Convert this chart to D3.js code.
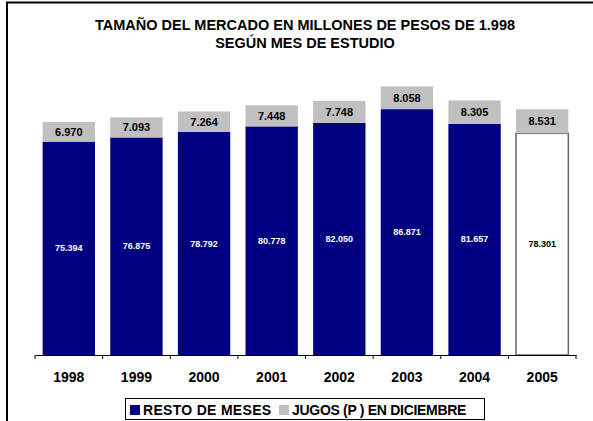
<!DOCTYPE html>
<html>
<head>
<meta charset="utf-8">
<script src="https://cdn.jsdelivr.net/npm/d3@7"></script>
<style>
  html, body { margin: 0; padding: 0; background: #fff; }
  svg { display: block; font-family: Arial, "Liberation Sans", sans-serif; }
</style>
</head>
<body>
<svg id="chart" width="593" height="421"></svg>
<script>
const years = ["1998", "1999", "2000", "2001", "2002", "2003", "2004", "2005"];
const restoMeses = [75394, 76875, 78792, 80778, 82050, 86871, 81657, 78301];
const jugosDiciembre = [6970, 7093, 7264, 7448, 7748, 8058, 8305, 8531];
const restoLabels = ["75.394", "76.875", "78.792", "80.778", "82.050", "86.871", "81.657", "78.301"];
const jugosLabels = ["6.970", "7.093", "7.264", "7.448", "7.748", "8.058", "8.305", "8.531"];
const titleLines = ["TAMAÑO DEL MERCADO EN MILLONES DE PESOS DE 1.998", "SEGÚN MES DE ESTUDIO"];
const legendLabels = ["RESTO DE MESES", "JUGOS (P ) EN DICIEMBRE"];

const NAVY = "#000080", GRAY = "#c0c0c0";
const svg = d3.select("#chart");

// frame (top and left lines)
svg.append("line").attr("x1", 6).attr("x2", 593).attr("y1", 2.5).attr("y2", 2.5).attr("stroke", "#000").attr("stroke-width", 2);
svg.append("line").attr("x1", 7).attr("x2", 7).attr("y1", 2).attr("y2", 421).attr("stroke", "#000").attr("stroke-width", 2);

// title
svg.append("g").selectAll("text").data(titleLines).join("text")
  .attr("x", 305).attr("y", (d, i) => 30 + i * 18)
  .attr("text-anchor", "middle").attr("font-size", 14.5).attr("font-weight", "bold").attr("fill", "#000")
  .text(d => d);

const x = d3.scaleBand().domain(years).range([35, 576]).paddingInner(0.226).paddingOuter(0.113);
const y = d3.scaleLinear().domain([0, 100000]).range([355, 72]);

const data = years.map((yr, i) => ({ yr, i, r: restoMeses[i], j: jugosDiciembre[i] }));
const last = years.length - 1;

// resto bars
svg.append("g").selectAll("rect").data(data).join("rect")
  .attr("x", d => x(d.yr)).attr("width", x.bandwidth())
  .attr("y", d => y(d.r)).attr("height", d => y(0) - y(d.r))
  .attr("fill", d => d.i === last ? "#fff" : NAVY)
  .attr("stroke", d => d.i === last ? "#666" : "none")
  .attr("stroke-width", 1.5);

// jugos bars
svg.append("g").selectAll("rect").data(data).join("rect")
  .attr("x", d => x(d.yr)).attr("width", x.bandwidth())
  .attr("y", d => y(d.r + d.j)).attr("height", d => y(d.r) - y(d.r + d.j))
  .attr("fill", GRAY);

// labels
svg.append("g").selectAll("text").data(data).join("text")
  .attr("x", d => x(d.yr) + x.bandwidth() / 2)
  .attr("y", d => (y(d.r) + y(d.r + d.j)) / 2 + 4)
  .attr("text-anchor", "middle").attr("font-size", 11).attr("font-weight", "bold").attr("fill", "#000")
  .text(d => jugosLabels[d.i]);
svg.append("g").selectAll("text").data(data).join("text")
  .attr("x", d => x(d.yr) + x.bandwidth() / 2)
  .attr("y", d => (y(0) + y(d.r)) / 2 + 3)
  .attr("text-anchor", "middle").attr("font-size", 9).attr("font-weight", "bold")
  .attr("fill", d => d.i === last ? "#000" : "#fff")
  .text(d => restoLabels[d.i]);

// x axis
const axis = svg.append("g").attr("transform", "translate(0,355)")
  .call(d3.axisBottom(x).tickSize(0));
axis.select(".domain").attr("stroke", "#000").attr("stroke-width", 1);
axis.selectAll(".tick text").attr("y", 27).attr("dy", null)
  .attr("font-size", 14).attr("font-weight", "bold").attr("fill", "#000")
  .attr("font-family", "Arial, 'Liberation Sans', sans-serif");
const step = x.step();
const tickXs = d3.range(years.length + 1).map(i => 35 + i * step);
axis.append("g").selectAll("line").data(tickXs).join("line")
  .attr("x1", d => d).attr("x2", d => d).attr("y1", 0).attr("y2", 4)
  .attr("stroke", "#000");

// legend
const lg = svg.append("g");
lg.append("rect").attr("x", 125.5).attr("y", 398.5).attr("width", 359).attr("height", 21)
  .attr("fill", "#fff").attr("stroke", "#000").attr("stroke-width", 1);
const legendItems = [
  { c: NAVY, t: legendLabels[0], x: 130, ls: 0.3 },
  { c: GRAY, t: legendLabels[1], x: 279, ls: -0.3 }
];
legendItems.forEach(it => {
  lg.append("rect").attr("x", it.x).attr("y", 405).attr("width", 10).attr("height", 10).attr("fill", it.c);
  lg.append("text").attr("x", it.x + 13).attr("y", 414.5).attr("font-size", 14).attr("font-weight", "bold")
    .attr("letter-spacing", it.ls).attr("fill", "#000").text(it.t);
});
</script>
</body>
</html>
